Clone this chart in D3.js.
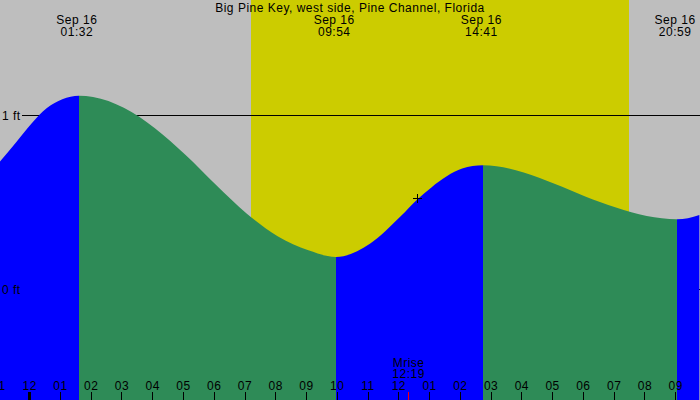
<!DOCTYPE html>
<html>
<head>
<meta charset="utf-8">
<script src="https://cdn.jsdelivr.net/npm/d3@7"></script>
<style>
  body { margin: 0; background: #bebebe; }
  svg { display: block; font-family: "Liberation Sans", Arial, sans-serif; }
  svg text { font-size: 12px; letter-spacing: 0.5px; fill: black; }
  svg line, svg rect { shape-rendering: crispEdges; }
</style>
</head>
<body>
<svg id="chart" width="700" height="400"></svg>
<script>
// tide readings, hours after midnight Sep 16 and height in feet
let tideHours = [-0.966, -0.44, 0.06, 0.56, 1.06, 1.6, 2.06, 3.06, 4.06, 5.06, 6.06, 7.06, 8.06, 9.06, 9.96,
                 11.06, 12.06, 12.6, 13.06, 14.06, 14.74, 16.06, 17.06, 18.06, 19.06, 20.06, 21.04, 21.4, 21.77];
let tideFeet  = [0.732, 0.843, 0.951, 1.040, 1.091, 1.111, 1.104, 1.042, 0.926, 0.772, 0.598, 0.433, 0.303, 0.222, 0.184,
                 0.260, 0.418, 0.515, 0.584, 0.692, 0.711, 0.670, 0.605, 0.532, 0.468, 0.419, 0.401, 0.407, 0.425];

// where the water turns (colour changes) and the labelled high / low tides
let turnHours = [1.6, 9.96, 14.74, 21.04];
let extremeHours = [1.533, 9.9, 14.683, 20.983];
let extremeDates = ["Sep 16", "Sep 16", "Sep 16", "Sep 16"];
let extremeTimes = ["01:32", "09:54", "14:41", "20:59"];

let sunrise = 7.19;
let sunset = 19.48;
let moonrise = 12.317;
let moonLabel = ["Mrise", "12:19"];
let nowHour = 12.6;
let nowFeet = 0.521;

let hourTicks = d3.range(-1, 22);
let feetTicks = [0, 1];
let title = "Big Pine Key, west side, Pine Channel, Florida";

let width = 700, height = 400;
let svg = d3.select("#chart");

let x = d3.scaleLinear()
          .domain([0, 10])
          .range([29.7, 337.3]);

let y = d3.scaleLinear()
          .domain([0, 1])
          .range([289, 115]);

// background and daylight
svg.append("rect")
   .attr("width", width)
   .attr("height", height)
   .attr("fill", "#bebebe");

svg.append("rect")
   .attr("x", x(sunrise))
   .attr("y", 0)
   .attr("width", x(sunset) - x(sunrise))
   .attr("height", height)
   .attr("fill", "#cccc00");

// foot lines sit under the water
svg.append("g").selectAll("line")
   .data(feetTicks)
   .join("line")
   .attr("x1", 22)
   .attr("x2", width)
   .attr("y1", d => y(d) + 0.5)
   .attr("y2", d => y(d) + 0.5)
   .attr("stroke", "black")
   .attr("stroke-width", 1);

let pts = tideHours.map((h, i) => ({h: h, f: tideFeet[i]}));

let area = d3.area()
             .x(d => x(d.h))
             .y0(height)
             .y1(d => y(d.f))
             .curve(d3.curveMonotoneX);

// rising = blue, falling = green
let bounds = [x.domain()[0] - 5].concat(turnHours).concat([x.domain()[0] + 40]);
let defs = svg.append("defs");
let water = svg.append("g");

for (let i = 0; i < bounds.length - 1; i++) {
    defs.append("clipPath")
        .attr("id", "seg" + i)
        .append("rect")
        .attr("x", x(bounds[i]))
        .attr("y", 0)
        .attr("width", x(bounds[i + 1]) - x(bounds[i]))
        .attr("height", height);

    water.append("path")
         .attr("d", area(pts))
         .attr("clip-path", "url(#seg" + i + ")")
         .attr("fill", i % 2 == 0 ? "#0000ff" : "#2e8b57");
}

// hour ticks along the bottom
let ticks = svg.append("g");
ticks.selectAll("line")
     .data(hourTicks)
     .join("line")
     .attr("x1", d => x(d))
     .attr("x2", d => x(d))
     .attr("y1", 392)
     .attr("y2", height)
     .attr("stroke", "black")
     .attr("stroke-width", d => d == 0 ? 3 : 1);

ticks.selectAll("text")
     .data(hourTicks)
     .join("text")
     .attr("x", d => x(d))
     .attr("y", 390)
     .attr("text-anchor", "middle")
     .text(d => {
         let hr = ((d % 12) + 12) % 12;
         if (hr == 0) hr = 12;
         return d3.format("02")(hr);
     });

// moonrise
svg.append("line")
   .attr("x1", x(moonrise))
   .attr("x2", x(moonrise))
   .attr("y1", 392)
   .attr("y2", height)
   .attr("stroke", "red")
   .attr("stroke-width", 1.5);

svg.append("g").selectAll("text")
   .data(moonLabel)
   .join("text")
   .attr("x", x(moonrise))
   .attr("y", (d, i) => 366.5 + i * 11.5)
   .attr("text-anchor", "middle")
   .text(d => d);

// foot labels
svg.append("g").selectAll("text")
   .data(feetTicks)
   .join("text")
   .attr("x", 2)
   .attr("y", d => y(d) + 4.5)
   .text(d => d + " ft");

// title + extreme labels
svg.append("text")
   .attr("x", width / 2)
   .attr("y", 12)
   .attr("text-anchor", "middle")
   .text(title);

let ext = svg.append("g").selectAll("g")
             .data(extremeHours)
             .join("g");

ext.append("text")
   .attr("x", d => x(d))
   .attr("y", 24)
   .attr("text-anchor", "middle")
   .text((d, i) => extremeDates[i]);

ext.append("text")
   .attr("x", d => x(d))
   .attr("y", 36)
   .attr("text-anchor", "middle")
   .text((d, i) => extremeTimes[i]);

// current time marker
let cx = Math.round(x(nowHour)) + 0.5, cy = Math.round(y(nowFeet)) + 0.5;
svg.append("path")
   .attr("d", "M" + (cx - 4.5) + "," + cy + "H" + (cx + 4.5) + "M" + cx + "," + (cy - 4.5) + "V" + (cy + 4.5))
   .attr("stroke", "black")
   .attr("stroke-width", 1)
   .attr("fill", "none");
</script>
</body>
</html>
